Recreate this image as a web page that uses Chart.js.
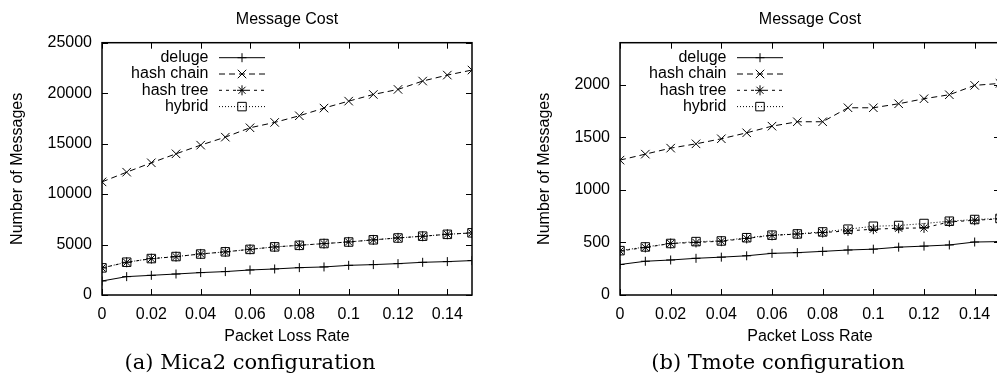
<!DOCTYPE html>
<html>
<head>
<meta charset="utf-8">
<script src="https://cdn.jsdelivr.net/npm/chart.js@4.4.0/dist/chart.umd.min.js"></script>
<style>
html, body { margin:0; padding:0; background:#fff; width:997px; height:374px; overflow:hidden; }
#wrap { position:relative; width:997px; height:374px; overflow:hidden; }
#mica { position:absolute; left:0; top:0; }
#tmote { position:absolute; left:497px; top:0; }
.cap { position:absolute; top:350px; font-family:"DejaVu Serif", serif; font-size:21px; white-space:nowrap; transform:translateX(-50%); color:#000; }
</style>
</head>
<body>
<div id="wrap">
<canvas id="mica" width="497" height="374"></canvas>
<canvas id="tmote" width="520" height="374"></canvas>
<div class="cap" style="left:250px">(a) Mica2 configuration</div>
<div class="cap" style="left:778px">(b) Tmote configuration</div>
</div>
<script>
// packet loss rates on the x axis
var lossRates = [0, 0.01, 0.02, 0.03, 0.04, 0.05, 0.06, 0.07, 0.08, 0.09, 0.10, 0.11, 0.12, 0.13, 0.14, 0.15];
var seriesNames = ["deluge", "hash chain", "hash tree", "hybrid"];

// tick labels
var xTicks = [0, 0.02, 0.04, 0.06, 0.08, 0.1, 0.12, 0.14];
var micaYTicks = [0, 5000, 10000, 15000, 20000, 25000];
var tmoteYTicks = [0, 500, 1000, 1500, 2000];

// (a) Mica2
var micaDeluge = [1390, 1820, 1950, 2080, 2220, 2320, 2480, 2580, 2710, 2780, 2940, 3010, 3110, 3240, 3310, 3410];
var micaChain  = [11210, 12170, 13100, 13990, 14850, 15640, 16570, 17100, 17760, 18520, 19210, 19870, 20370, 21200, 21790, 22290];
var micaTree   = [2680, 3240, 3600, 3800, 4070, 4270, 4530, 4760, 4930, 5090, 5260, 5460, 5660, 5820, 6020, 6150];
var micaHybrid = [2690, 3250, 3610, 3810, 4060, 4280, 4520, 4770, 4920, 5100, 5250, 5470, 5650, 5830, 6010, 6160];

// (b) Tmote
var tmoteDeluge = [290, 321, 333, 349, 360, 373, 396, 403, 415, 428, 436, 455, 465, 476, 504, 508];
var tmoteChain  = [1283, 1340, 1397, 1438, 1486, 1543, 1606, 1648, 1648, 1781, 1781, 1819, 1867, 1905, 1994, 2013];
var tmoteTree   = [419, 452, 490, 500, 512, 538, 567, 580, 594, 610, 626, 635, 638, 695, 711, 724];
var tmoteHybrid = [422, 457, 490, 508, 514, 545, 569, 581, 600, 626, 654, 661, 680, 702, 718, 728];

var FONT = "'Liberation Sans', Arial, sans-serif";
var FSIZE = 16;
Chart.defaults.color = "#000";
Chart.defaults.font.family = FONT;
Chart.defaults.font.size = FSIZE;

//line styles per series, like the gnuplot ones
var styles = [
    { dash: [], point: "cross", radius: 4.5 },
    { dash: [6, 4], point: "crossRot", radius: 6 },
    { dash: [3, 4], point: "star", radius: 5 },
    { dash: [1, 2], point: "rect", radius: 6 }
];

function makeDatasets(values)
{
    var sets = [];
    for (var i = 0; i < values.length; i++)
    {
        var pts = [];
        for (var j = 0; j < lossRates.length; j++)
        {
            pts.push({ x: lossRates[j], y: values[i][j] });
        }
        sets.push({
            label: seriesNames[i],
            data: pts,
            borderColor: "#000",
            borderWidth: 1,
            borderDash: styles[i].dash,
            pointStyle: styles[i].point,
            pointRadius: styles[i].radius,
            pointBorderColor: "#000",
            pointBackgroundColor: "rgba(0,0,0,0)",
            pointBorderWidth: 1,
            tension: 0,
            fill: false
        });
    }
    return sets;
}

// box frame, inward ticks and gnuplot style key
var framePlugin = {
    id: "frame",
    afterDatasetsDraw: function(chart)
    {
        var ctx = chart.ctx;
        var a = chart.chartArea;
        var xs = chart.scales.x, ys = chart.scales.y;
        ctx.save();
        ctx.strokeStyle = "#000";
        ctx.setLineDash([]);
        ctx.lineWidth = 1;
        ctx.beginPath();
        xs.ticks.forEach(function(t) {
            var px = Math.round(xs.getPixelForValue(t.value)) + 0.5;
            ctx.moveTo(px, a.bottom); ctx.lineTo(px, a.bottom - 6);
            ctx.moveTo(px, a.top); ctx.lineTo(px, a.top + 6);
        });
        ys.ticks.forEach(function(t) {
            var py = Math.round(ys.getPixelForValue(t.value)) + 0.5;
            ctx.moveTo(a.left, py); ctx.lineTo(a.left + 6, py);
            ctx.moveTo(a.right, py); ctx.lineTo(a.right - 6, py);
        });
        ctx.stroke();
        ctx.lineWidth = 1.5;
        ctx.strokeRect(a.left, a.top, a.right - a.left, a.bottom - a.top);

        // key
        ctx.font = FSIZE + "px " + FONT;
        ctx.textAlign = "right";
        ctx.textBaseline = "middle";
        chart.data.datasets.forEach(function(ds, i) {
            var y = a.top + 15 + i * 16.3;
            ctx.fillStyle = "#000";
            ctx.fillText(ds.label, a.left + 106.5, y);
            ctx.lineWidth = 1;
            ctx.setLineDash(ds.borderDash);
            ctx.beginPath();
            ctx.moveTo(a.left + 117, y);
            ctx.lineTo(a.left + 163, y);
            ctx.stroke();
            ctx.setLineDash([]);
            ctx.fillStyle = "rgba(0,0,0,0)";
            Chart.helpers.drawPoint(ctx, { pointStyle: ds.pointStyle, radius: ds.pointRadius, rotation: 0, borderWidth: 1 }, a.left + 140, y);
        });
        ctx.restore();
    }
};

function createChart(canvasId, values, yMax, yTicks, yAxisWidth, yTitlePad, rightPad)
{
    return new Chart(document.getElementById(canvasId), {
        type: "line",
        data: { datasets: makeDatasets(values) },
        plugins: [framePlugin],
        options: {
            responsive: false,
            animation: false,
            layout: { padding: { left: 0, right: rightPad, top: 0, bottom: 0 } },
            plugins: {
                legend: { display: false },
                tooltip: { enabled: false },
                title: {
                    display: true,
                    text: "Message Cost",
                    fullSize: false,
                    font: { size: FSIZE, weight: "normal", family: FONT },
                    color: "#000",
                    padding: { top: 10, bottom: 13.5 }
                }
            },
            scales: {
                x: {
                    type: "linear",
                    min: 0,
                    max: 0.15,
                    grid: { display: false, drawTicks: false },
                    border: { display: false },
                    afterBuildTicks: function(scale) {
                        scale.ticks = xTicks.map(function(v) { return { value: v }; });
                    },
                    ticks: {
                        padding: 10,
                        maxRotation: 0,
                        autoSkip: false,
                        callback: function(v) { return String(v); }
                    },
                    title: { display: true, text: "Packet Loss Rate", padding: { top: 0, bottom: 28 }, font: { size: FSIZE } },
                    afterFit: function(scale) { scale.height = 79; }
                },
                y: {
                    type: "linear",
                    min: 0,
                    max: yMax,
                    grid: { display: false, drawTicks: false },
                    border: { display: false },
                    afterBuildTicks: function(scale) {
                        scale.ticks = yTicks.map(function(v) { return { value: v }; });
                    },
                    ticks: { padding: 10, autoSkip: false, callback: function(v) { return String(v); } },
                    title: { display: true, text: "Number of Messages", padding: { top: yTitlePad, bottom: 0 }, font: { size: FSIZE } },
                    afterFit: function(scale) { scale.width = yAxisWidth; }
                }
            }
        }
    });
}

var micaChart = createChart("mica", [micaDeluge, micaChain, micaTree, micaHybrid], 25000, micaYTicks, 102, 8, 25);
var tmoteChart = createChart("tmote", [tmoteDeluge, tmoteChain, tmoteTree, tmoteHybrid], 2400, tmoteYTicks, 123, 38, 17);
</script>
</body>
</html>
